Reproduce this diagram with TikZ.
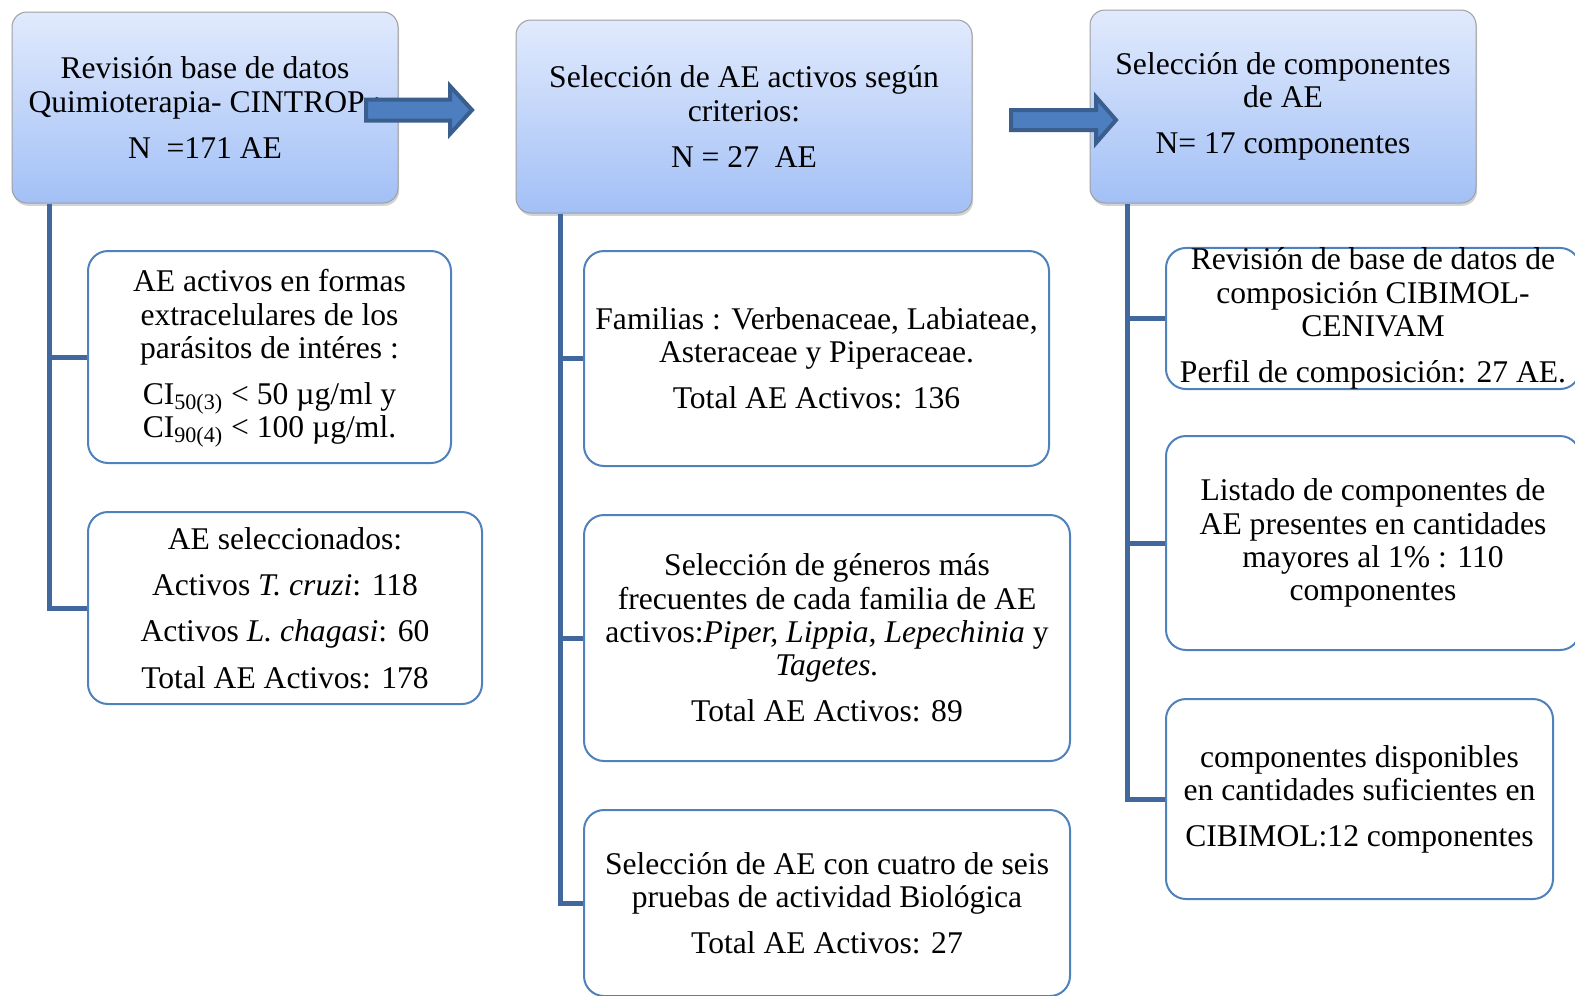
\documentclass[tikz,border=0pt]{standalone}
\usepackage{fontspec}
\setmainfont{Liberation Serif}
\usetikzlibrary{shadows}
\definecolor{hdrtop}{RGB}{225,234,253}
\definecolor{hdrbot}{RGB}{162,192,246}
\definecolor{conncol}{RGB}{65,104,156}
\definecolor{boxblue}{RGB}{79,129,189}
\definecolor{arrfill}{RGB}{76,126,192}
\definecolor{arrdraw}{RGB}{58,95,142}
\begin{document}
\begin{tikzpicture}[x=0.5pt,y=-0.5pt,
  every node/.style={font=\fontsize{15.8pt}{16.6pt}\selectfont, align=center, inner sep=0pt},
  hdr/.style={draw=gray!75, line width=0.5pt, rounded corners=7.5pt, top color=hdrtop, bottom color=hdrbot,
    drop shadow={opacity=0.35, shadow xshift=0.6pt, shadow yshift=-1.4pt}},
  subbox/.style={draw=boxblue, line width=1pt, rounded corners=10pt, fill=white},
  conn/.style={draw=conncol, line width=2.5pt},
  blk/.style={fill=arrfill, draw=arrdraw, line width=2pt, line join=miter}]
\useasboundingbox (0,0) rectangle (1575,996);

% header boxes
\node[hdr, minimum width=193pt, minimum height=95.5pt] (H1) at (205,107.5)
  {Revisión base de datos\\Quimioterapia- CINTROP :\\[6.4pt]N\ \ =171 AE};
\node[hdr, minimum width=228pt, minimum height=96.5pt] (H2) at (744,116.5)
  {Selección de AE activos según\\criterios:\\[6.4pt]N = 27\ \ AE};
\node[hdr, minimum width=193pt, minimum height=96.5pt] (H3) at (1283,106.5)
  {Selección de componentes\\de AE\\[6.4pt]N= 17 componentes};

% child boxes column 1
\node[subbox, minimum width=181.5pt, minimum height=106pt] (C1a) at (269.5,357)
  {\raisebox{0pt}[\height][0pt]{AE activos en formas}\\extracelulares de los\\parásitos de intéres :\\[6.4pt]
   CI\smash{\textsubscript{50(3)}} < 50 µg/ml y\\CI\smash{\textsubscript{90(4)}} < 100 µg/ml.};
\node[subbox, minimum width=197pt, minimum height=96pt] (C1b) at (285,608)
  {AE seleccionados:\\[6.6pt]Activos \textit{T. cruzi}: 118\\[6.6pt]Activos \textit{L. chagasi}: 60\\[6.6pt]Total AE Activos: 178};

% column 2
\node[subbox, minimum width=232.5pt, minimum height=107.5pt] (C2a) at (816.5,358.5)
  {Familias : Verbenaceae, Labiateae,\\Asteraceae y Piperaceae.\\[6.4pt]Total AE Activos: 136};
\node[subbox, minimum width=243pt, minimum height=123pt] (C2b) at (827,638)
  {Selección de géneros más\\frecuentes de cada familia de AE\\activos:\textit{Piper, Lippia, Lepechinia} y\\\textit{Tagetes.}\\[6.4pt]Total AE Activos: 89};
\node[subbox, minimum width=243pt, minimum height=93pt] (C2c) at (827,903)
  {Selección de AE con cuatro de seis\\pruebas de actividad Biológica\\[6.4pt]Total AE Activos: 27};

% column 3
\node[subbox, minimum width=207pt, minimum height=67.5pt] (C3a) at (1373,318.5)
  {Revisión de base de datos de\\composición CIBIMOL-\\CENIVAM\\[6.4pt]Perfil de composición: 27 AE.};
\node[subbox, minimum width=207pt, minimum height=107pt] (C3b) at (1373,543)
  {Listado de componentes de\\AE presentes en cantidades\\mayores al 1\% : 110\\componentes};
\node[subbox, minimum width=193.5pt, minimum height=100pt] (C3c) at (1359.5,799)
  {componentes disponibles\\en cantidades suficientes en\\[6.4pt]CIBIMOL:12 componentes};

% trunks and branches
\coordinate (t1) at ([xshift=19pt]H1.south west);
\coordinate (t2) at ([xshift=22.5pt]H2.south west);
\coordinate (t3) at ([xshift=19pt]H3.south west);
\draw[conn] (t1) |- (C1b.west);
\draw[conn] (t1 |- C1a.west) -- (C1a.west);
\draw[conn] (t2) |- (C2c.west);
\draw[conn] (t2 |- C2a.west) -- (C2a.west);
\draw[conn] (t2 |- C2b.west) -- (C2b.west);
\draw[conn] (t3) |- (C3c.west);
\draw[conn] (t3 |- C3a.west) -- (C3a.west);
\draw[conn] (t3 |- C3b.west) -- (C3b.west);

% block arrows
\draw[blk] (366,99.5) -- (450,99.5) -- (450,86) -- (472,110) -- (450,134) -- (450,120.5) -- (366,120.5) -- cycle;
\draw[blk] (1011,110) -- (1096,110) -- (1096,97) -- (1116,120) -- (1096,143) -- (1096,130) -- (1011,130) -- cycle;
\end{tikzpicture}
\end{document}
